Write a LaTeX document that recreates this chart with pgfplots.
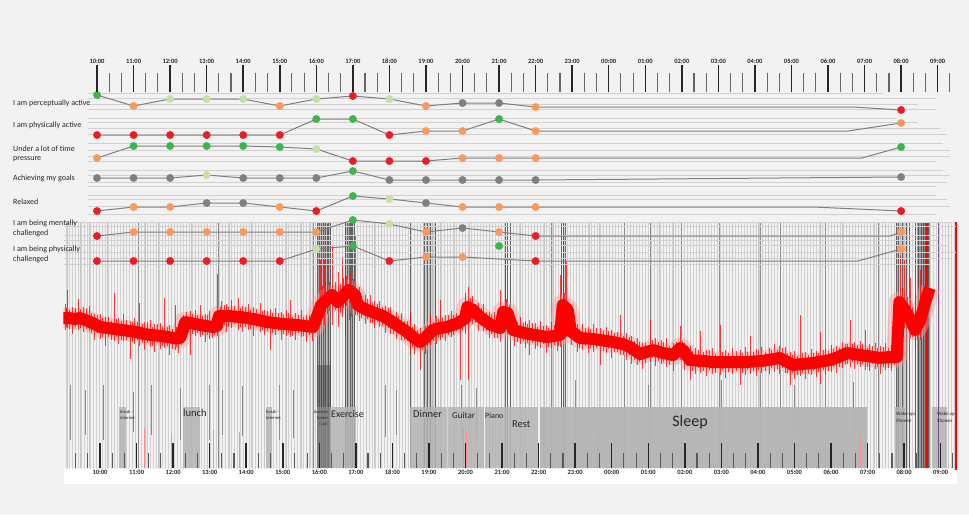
\documentclass[border=0pt]{standalone}
\usepackage{fontspec}
\setmainfont{Carlito}
\usepackage{pgfplots}
\pgfplotsset{compat=1.18}
\usetikzlibrary{patterns}
\definecolor{bgc}{HTML}{F2F2F2}
\definecolor{cG}{HTML}{3DB54A}
\definecolor{cL}{HTML}{C5E0A3}
\definecolor{cO}{HTML}{F79A5B}
\definecolor{cR}{HTML}{ED1C24}
\definecolor{cY}{HTML}{808080}
\definecolor{linec}{HTML}{7F7F7F}
\definecolor{boxc}{HTML}{B4B4B4}
\definecolor{sig}{HTML}{FF0000}
\definecolor{sigl}{HTML}{F2A0A0}
\definecolor{purp}{HTML}{785082}
\pgfplotsset{
 vl/.style={only marks, mark=*, mark size=0pt, mark options={draw=none,fill=none},
   error bars/.cd, y dir=both, y explicit, error mark=none, error bar style={#1}},
 hl/.style={only marks, mark=*, mark size=0pt, mark options={draw=none,fill=none},
   error bars/.cd, x dir=plus, x explicit, error mark=none, error bar style={#1}},
 rowline/.style={color=linec, line width=1pt, mark=none},
 rowdots/.style={scatter, only marks, scatter src=explicit symbolic, mark size=3.7pt,
   scatter/classes={G={mark=*,cG}, L={mark=*,cL}, O={mark=*,cO}, R={mark=*,cR}, Y={mark=*,cY}}},
}
% signal centre line (time in hours, vertical position in pixels from top)
\pgfplotstableread{
h c
9.00 318
9.15 318
9.3 319
9.45 318
9.6 320
9.8 323
10.0 327
10.2 328
10.4 329
10.6 330
10.8 331
11.0 332
11.2 334
11.4 335
11.7 336
12.0 338
12.19 338
12.26 331
12.33 322
12.6 324
12.9 326
13.1 327
13.2 326
13.25 316
13.5 316
13.83 317
14.2 319
14.57 322
15.0 324
15.4 325
15.83 327
15.94 316
16.05 305
16.2 300
16.35 295
16.5 302
16.65 296
16.8 290
16.98 295
17.05 305
17.3 310
17.74 316
18.0 322
18.2 327
18.4 332
18.6 338
18.76 342
18.9 338
19.11 330
19.3 328
19.49 327
19.8 323
20.0 318
20.05 307
20.2 310
20.4 317
20.7 325
20.95 328
21.03 312
21.15 313
21.3 330
21.6 333
21.9 335
22.23 337
22.59 335
22.66 305
22.8 310
22.88 331
23.13 338
23.5 339
24.04 342
24.3 344
24.5 347
24.78 354
24.95 352
25.13 350
25.4 353
25.68 355
25.87 348
25.97 351
26.14 360
26.5 361
26.77 362
27.2 362
27.7 362
28.1 361
28.6 358
28.96 365
29.2 364
29.51 363
29.97 360
30.2 357
30.44 353
30.8 355
31.34 358
31.6 357
31.80 357
31.87 302
32.02 310
32.15 318
32.30 330
32.44 320
32.57 303
32.70 288
}\sigcentre
% signal noise excursions: centre c, downward d, upward u (pixels)
\pgfplotstableread{
h c d u
9.05 318 12 14
9.08 318 9 10
9.12 318 10 28
9.17 318 11 8
9.25 319 15 12
9.32 319 8 11
9.40 319 11 20
9.47 318 10 9
9.55 318 14 11
9.62 320 9 12
9.70 321 10 15
9.77 322 11 9
9.85 324 16 10
9.92 325 8 10
10.0 327 12 13
10.07 327 10 9
10.15 328 18 11
10.22 328 9 11
10.30 329 11 8
10.38 329 12 36
10.45 329 8 10
10.5 330 14 12
10.58 330 10 9
10.65 330 11 16
10.72 331 9 11
10.82 331 28 10
10.88 331 11 9
10.95 332 12 14
11.02 332 8 10
11.09 333 13 30
11.15 333 10 9
11.22 334 16 12
11.30 334 9 12
11.37 335 12 15
11.43 335 11 8
11.5 335 17 11
11.57 335 8 11
11.65 336 13 13
11.70 336 10 9
11.75 336 12 38
11.83 337 9 10
11.9 337 18 12
11.97 338 11 9
12.05 338 12 33
12.10 338 9 11
12.15 338 15 14
12.22 335 10 9
12.28 330 11 15
12.37 322 9 10
12.46 323 32 12
12.52 323 11 9
12.6 324 12 14
12.67 325 8 10
12.74 325 12 20
12.81 325 10 9
12.88 326 16 12
12.94 326 9 11
13.0 326 13 15
13.07 327 11 8
13.14 327 8 10
13.20 326 10 52
13.28 316 10 9
13.32 315 14 14
13.39 316 9 11
13.45 316 16 12
13.52 316 11 9
13.6 316 12 16
13.67 316 8 10
13.78 317 13 19
13.85 317 10 9
13.9 317 15 11
13.97 318 9 11
14.05 318 12 14
14.12 318 11 8
14.2 319 17 12
14.27 319 8 10
14.38 320 12 17
14.43 320 10 9
14.5 321 14 11
14.57 322 9 11
14.65 322 28 13
14.72 322 11 9
14.8 323 12 15
14.87 323 8 10
14.95 324 16 12
15.02 324 10 9
15.1 324 12 14
15.15 324 9 11
15.2 324 13 24
15.27 325 11 8
15.35 325 15 12
15.42 325 8 10
15.5 325 12 15
15.57 326 10 9
15.65 326 16 11
15.72 326 9 11
15.8 327 14 14
15.88 322 11 9
16.02 305 20 45
16.08 302 14 16
16.13 300 25 40
16.17 300 12 18
16.21 299 15 75
16.28 297 14 15
16.35 295 30 50
16.43 298 12 16
16.51 302 25 30
16.57 299 14 15
16.62 297 20 40
16.66 296 12 18
16.70 294 40 70
16.75 292 14 16
16.81 290 30 68
16.85 291 12 18
16.89 292 25 70
16.94 294 14 15
16.98 295 20 60
17.03 303 12 14
17.1 307 14 20
17.15 308 10 9
17.25 309 15 14
17.32 310 9 11
17.39 311 12 16
17.45 312 11 9
17.5 313 15 12
17.58 314 8 10
17.65 315 12 14
17.72 316 10 9
17.8 317 16 11
17.88 319 9 11
17.95 321 13 14
18.03 323 11 8
18.1 324 15 12
18.17 326 8 10
18.25 328 12 15
18.32 330 10 9
18.40 332 9 11
18.48 334 20 22
18.55 336 11 9
18.6 338 16 14
18.68 340 8 10
18.76 342 28 14
18.83 340 10 9
18.9 338 16 12
18.97 336 9 11
19.05 332 13 16
19.12 330 11 8
19.2 329 15 13
19.25 329 8 10
19.30 328 12 28
19.38 327 10 9
19.45 327 14 12
19.52 326 9 11
19.6 325 12 14
19.68 324 11 9
19.75 323 8 10
19.85 322 58 12
19.92 320 10 9
19.99 318 16 25
20.07 307 73 20
20.12 309 9 11
20.2 310 14 14
20.27 312 11 8
20.35 315 16 12
20.43 318 8 10
20.5 319 12 15
20.58 321 10 9
20.65 324 14 12
20.72 325 9 11
20.8 326 12 14
20.87 327 11 9
20.94 328 14 38
21.0 318 12 12
21.08 311 15 56
21.13 313 10 14
21.2 320 14 15
21.27 326 9 11
21.35 330 16 13
21.42 331 11 9
21.5 332 12 15
21.57 333 8 10
21.65 333 15 12
21.70 333 10 9
21.76 334 21 14
21.83 334 9 11
21.9 335 14 12
21.97 335 11 8
22.05 336 12 15
22.12 336 8 10
22.2 337 16 12
22.27 337 10 9
22.35 336 12 14
22.42 336 9 11
22.5 336 15 11
22.55 335 11 9
22.59 335 12 60
22.63 320 12 14
22.67 303 20 68
22.71 307 12 14
22.75 312 25 50
22.82 318 12 12
22.9 331 14 14
22.97 333 9 11
23.05 336 16 12
23.12 337 11 8
23.2 338 12 14
23.27 338 8 10
23.35 338 15 11
23.42 338 10 9
23.5 339 13 15
23.58 339 9 11
23.68 340 25 12
23.76 340 11 9
23.85 341 12 14
23.92 341 8 10
24.0 342 16 12
24.08 342 10 9
24.16 343 9 11
24.23 343 12 28
24.32 344 11 8
24.4 346 14 13
24.47 347 8 10
24.55 348 16 12
24.62 350 10 9
24.7 352 13 14
24.77 353 9 11
24.85 354 15 11
24.92 352 11 9
25.05 350 12 30
25.12 350 8 10
25.2 351 15 13
25.27 351 10 9
25.35 352 12 12
25.42 353 9 11
25.5 353 14 15
25.58 354 11 8
25.68 355 16 12
25.76 352 8 10
25.87 348 12 22
25.93 350 10 9
26.0 355 15 12
26.07 357 9 11
26.14 360 20 14
26.22 360 11 9
26.3 360 14 12
26.36 360 8 10
26.42 361 12 30
26.50 361 10 9
26.6 361 15 11
26.67 361 9 11
26.75 362 12 14
26.84 362 11 8
26.96 362 13 37
27.03 362 8 10
27.1 362 16 12
27.18 362 10 9
27.3 362 12 14
27.40 362 9 11
27.51 362 23 12
27.58 362 11 9
27.65 362 13 15
27.72 362 8 10
27.78 362 12 26
27.87 361 10 9
27.95 361 15 12
28.02 361 9 11
28.1 361 12 14
28.2 360 11 8
28.3 360 14 12
28.38 360 8 10
28.45 359 13 15
28.52 359 10 9
28.6 358 16 12
28.67 359 9 11
28.75 361 12 14
28.81 362 11 9
28.88 364 21 12
28.94 365 8 10
29.0 366 13 15
29.07 365 10 9
29.15 364 12 49
29.22 364 9 11
29.3 364 15 12
29.37 363 11 8
29.45 363 12 14
29.52 363 8 10
29.6 363 14 12
29.65 362 10 9
29.70 362 22 30
29.78 361 9 11
29.85 361 14 12
29.92 360 11 9
30.0 360 12 15
30.07 359 8 10
30.15 358 15 12
30.22 357 10 9
30.3 356 12 14
30.38 355 9 11
30.45 353 11 9
30.52 354 13 34
30.58 354 8 10
30.65 354 15 12
30.72 354 10 9
30.8 355 12 14
30.87 355 9 11
30.93 356 14 26
31.0 356 11 8
31.05 356 15 12
31.12 356 8 10
31.2 357 12 14
31.27 357 10 9
31.34 358 16 12
31.42 358 9 11
31.5 358 12 15
31.57 357 11 9
31.65 357 14 12
31.72 357 8 10
31.83 330 20 25
31.89 300 20 45
31.95 305 14 18
32.02 310 18 50
32.08 313 14 16
32.16 318 20 40
32.23 323 14 16
32.30 330 18 35
32.37 326 14 16
32.44 320 20 50
32.50 312 14 16
32.57 303 20 60
32.63 298 14 16
}\signoise
\begin{document}
\begin{tikzpicture}
% ================= main axis: background, stripes, signal, activities =================
\begin{axis}[at={(0pt,0pt)}, anchor=south west, width=969pt, height=515pt, scale only axis,
  xmin=7.264, xmax=33.775, ymin=0, ymax=515, y dir=reverse, hide axis]
\addplot[fill=bgc, draw=none] coordinates {(7.264,0) (33.775,0) (33.775,515) (7.264,515)} -- cycle;
\addplot[fill=white, draw=none] coordinates {(9.015,222) (33.45,222) (33.45,484) (9.015,484)} -- cycle;
\addplot[fill=black!5, draw=none] coordinates {(9.015,222) (33.45,222) (33.45,468) (9.015,468)} -- cycle;
\addplot[draw=none, pattern=vertical lines, pattern color=black!18] coordinates {(9.015,222) (33.45,222) (33.45,468) (9.015,468)} -- cycle;
% light full-height lines
\addplot[vl={draw=black!22, line width=0.8pt}] coordinates {
(9.1,222) += (0,246) (9.45,222) += (0,246) (9.7,222) += (0,246) (10.2,222) += (0,246)
(10.65,222) += (0,246) (11.25,222) += (0,246) (11.6,222) += (0,246) (11.95,222) += (0,246)
(12.5,222) += (0,246) (12.95,222) += (0,246) (13.55,222) += (0,246) (14.15,222) += (0,246)
(14.5,222) += (0,246) (15.1,222) += (0,246) (15.5,222) += (0,246) (15.75,222) += (0,246)
(17.3,222) += (0,246) (17.5,222) += (0,246) (17.7,222) += (0,246) (18.2,222) += (0,246)
(19.3,222) += (0,246) (19.7,222) += (0,246) (20.1,222) += (0,246) (20.65,222) += (0,246)
(21.5,222) += (0,246) (22.15,222) += (0,246) (22.4,222) += (0,246) (23.4,222) += (0,246)
(23.65,222) += (0,246) (24.5,222) += (0,246) (25.3,222) += (0,246) (25.7,222) += (0,246)
(26.4,222) += (0,246) (27.3,222) += (0,246) (28.0,222) += (0,246) (28.3,222) += (0,246)
(29.1,222) += (0,246) (29.7,222) += (0,246) (30.3,222) += (0,246) (31.2,222) += (0,246)
(31.5,222) += (0,246) (33.2,222) += (0,246)};
% medium gray partial lines
\addplot[vl={draw=black!45, line width=0.8pt}] coordinates {
(9.2,385) += (0,55) (9.6,390) += (0,45) (10.1,385) += (0,55) (10.9,392) += (0,40)
(11.4,385) += (0,50) (12.2,388) += (0,52) (13.0,385) += (0,55) (13.35,390) += (0,45)
(13.9,386) += (0,50) (14.9,385) += (0,55) (15.3,390) += (0,48) (17.8,385) += (0,52)
(18.1,390) += (0,45) (19.9,385) += (0,55) (20.3,388) += (0,50) (23.0,380) += (0,60)
(25.0,385) += (0,50) (27.0,380) += (0,55) (29.0,385) += (0,50) (30.6,382) += (0,55)};
% medium gray full lines
\addplot[vl={draw=black!45, line width=0.7pt}] coordinates {
(11.05,222) += (0,246) (13.23,222) += (0,246) (15.85,222) += (0,246) (22.35,222) += (0,246)
(24.34,222) += (0,246) (25.05,222) += (0,246) (25.9,222) += (0,246) (26.95,222) += (0,246)
(28.06,222) += (0,246) (28.6,222) += (0,246) (29.84,222) += (0,246) (31.3,222) += (0,246)};
% dark shaded zones
\addplot[fill=black, fill opacity=0.22, draw=none] coordinates {(15.95,222) (16.33,222) (16.33,468) (15.95,468)} -- cycle;
\addplot[fill=black, fill opacity=0.30, draw=none] coordinates {(15.95,365) (16.33,365) (16.33,468) (15.95,468)} -- cycle;
\addplot[fill=black, fill opacity=0.18, draw=none] coordinates {(16.70,222) (16.98,222) (16.98,468) (16.70,468)} -- cycle;
\addplot[fill=black, fill opacity=0.12, draw=none] coordinates {(18.85,222) (19.20,222) (19.20,468) (18.85,468)} -- cycle;
\addplot[fill=black, fill opacity=0.15, draw=none] coordinates {(31.78,222) (32.10,222) (32.10,468) (31.78,468)} -- cycle;
\addplot[fill=black, fill opacity=0.35, draw=none] coordinates {(32.35,222) (32.70,222) (32.70,468) (32.35,468)} -- cycle;
% dark lines
\addplot[vl={draw=black!72, line width=0.9pt, opacity=0.8}] coordinates {
(15.95,222) += (0,246) (16.0,222) += (0,246) (16.06,222) += (0,246) (16.12,222) += (0,246)
(16.18,222) += (0,246) (16.25,222) += (0,246) (16.31,222) += (0,246) (16.72,222) += (0,246)
(16.78,222) += (0,246) (16.84,222) += (0,246) (16.9,222) += (0,246) (16.96,222) += (0,246)
(18.48,222) += (0,246) (18.89,222) += (0,246) (18.95,222) += (0,246) (19.05,222) += (0,246)
(19.17,222) += (0,246) (21.1,222) += (0,246) (21.16,222) += (0,246) (21.22,222) += (0,246)
(22.62,222) += (0,246) (22.68,222) += (0,246) (22.73,222) += (0,246) (31.78,222) += (0,246)
(31.85,222) += (0,246) (31.95,222) += (0,246) (32.06,222) += (0,246) (32.15,222) += (0,246)
(32.3,222) += (0,246) (32.4,222) += (0,246) (32.47,222) += (0,246) (32.53,222) += (0,246)
(32.58,222) += (0,246) (32.66,222) += (0,246)};
% activity boxes
\addplot[fill=boxc, fill opacity=0.85, draw=none] coordinates {(10.52,407) (10.71,407) (10.71,468) (10.52,468)} -- cycle;
\addplot[fill=boxc, fill opacity=0.85, draw=none] coordinates {(12.27,407) (12.74,407) (12.74,468) (12.27,468)} -- cycle;
\addplot[fill=boxc, fill opacity=0.85, draw=none] coordinates {(14.54,407) (14.71,407) (14.71,468) (14.54,468)} -- cycle;
\addplot[fill=black!45, fill opacity=0.7, draw=none] coordinates {(15.94,407) (16.29,407) (16.29,468) (15.94,468)} -- cycle;
\addplot[fill=boxc, fill opacity=0.85, draw=none] coordinates {(16.29,407) (17.00,407) (17.00,468) (16.29,468)} -- cycle;
\addplot[fill=boxc, fill opacity=0.85, draw=none] coordinates {(18.48,407) (19.49,407) (19.49,468) (18.48,468)} -- cycle;
\addplot[fill=boxc, fill opacity=0.85, draw=none] coordinates {(19.52,407) (20.51,407) (20.51,468) (19.52,468)} -- cycle;
\addplot[fill=boxc, fill opacity=0.85, draw=none] coordinates {(20.53,407) (21.16,407) (21.16,468) (20.53,468)} -- cycle;
\addplot[fill=boxc, fill opacity=0.85, draw=none] coordinates {(21.16,407) (21.98,407) (21.98,468) (21.16,468)} -- cycle;
\addplot[fill=boxc, fill opacity=0.95, draw=none] coordinates {(22.04,407) (30.98,407) (30.98,468) (22.04,468)} -- cycle;
\addplot[fill=boxc, fill opacity=0.85, draw=none] coordinates {(31.75,407) (32.02,407) (32.02,468) (31.75,468)} -- cycle;
\addplot[fill=boxc, fill opacity=0.85, draw=none] coordinates {(32.76,407) (33.17,407) (33.17,468) (32.76,468)} -- cycle;
% red / purple marker lines
\addplot[vl={draw=sig, line width=1.6pt}] coordinates {(32.63,222) += (0,246) (33.42,222) += (0,248)};
\addplot[vl={draw=purp, line width=0.9pt}] coordinates {(32.95,222) += (0,246)};
% faint red traces in lower part
\addplot[vl={draw=sig!45, line width=0.6pt}] coordinates {
(11.2,428) += (0,40) (11.95,435) += (0,33) (13.1,430) += (0,38) (13.8,432) += (0,36)
(19.95,428) += (0,40) (20.02,432) += (0,36) (23.6,436) += (0,32) (30.8,438) += (0,30)};
% signal band
\addplot[color=sigl, opacity=0.45, line width=21pt, line join=round, line cap=butt] table[x=h,y=c] {\sigcentre};
\addplot[vl={draw=sig, line width=0.75pt, opacity=0.75}] table[x=h, y=c, y error plus=d, y error minus=u] {\signoise};
\addplot[color=sig, line width=12pt, line join=round, line cap=butt] table[x=h,y=c] {\sigcentre};
\end{axis}
% ================= rating rows (top time mapping) =================
\begin{axis}[at={(0pt,0pt)}, anchor=south west, width=969pt, height=515pt, scale only axis,
  xmin=7.346, xmax=33.857, ymin=0, ymax=515, y dir=reverse, hide axis]
\addplot[hl={draw=black!18, line width=0.7pt}] coordinates {
(9.75,93) += (21.75,0) (9.75,98) += (23.2,0) (9.75,104) += (22.7,0) (9.75,109) += (23.2,0)
(9.75,118) += (22.1,0) (9.75,122) += (22.7,0) (9.75,128) += (23.3,0) (9.75,134) += (23.5,0)
(9.75,143) += (23.4,0) (9.75,150) += (23.6,0) (9.75,156) += (23.6,0) (9.75,161) += (23.2,0)
(9.75,170) += (23.4,0) (9.75,175) += (23.6,0) (9.75,182) += (23.5,0) (9.75,186) += (23.2,0)
(9.75,195) += (23.2,0) (9.75,199) += (23.5,0) (9.75,206) += (23.6,0) (9.75,214) += (23.2,0)
(9.1,222) += (24.3,0) (9.1,226) += (24.4,0) (9.1,235) += (24.3,0) (9.1,240) += (23.9,0)
(9.1,245) += (24.2,0) (9.1,252) += (24.4,0) (9.1,258) += (24.3,0) (9.1,264) += (23.7,0)};
% row 1
\addplot[rowline] coordinates {(10,95) (11,106) (12,99) (13,99) (14,99) (15,106) (16,99) (17,96) (18,99) (19,106) (20,103) (21,103) (22,107) (30.68,107) (32,110)};
\addplot[rowdots] coordinates {(10,95) [G] (11,106) [O] (12,99) [L] (13,99) [L] (14,99) [L] (15,106) [O] (16,99) [L] (17,96) [R] (18,99) [L] (19,106) [O] (20,103) [Y] (21,103) [Y] (22,107) [O] (32,110) [R]};
% row 2
\addplot[rowline] coordinates {(10,135) (11,135) (12,135) (13,135) (14,135) (15,135) (16,119) (17,119) (18,135) (19,131) (20,131) (21,119) (22,131) (30.55,131) (32,123)};
\addplot[rowdots] coordinates {(10,135) [R] (11,135) [R] (12,135) [R] (13,135) [R] (14,135) [R] (15,135) [R] (16,119) [G] (17,119) [G] (18,135) [R] (19,131) [O] (20,131) [O] (21,119) [G] (22,131) [O] (32,123) [O]};
% row 3
\addplot[rowline] coordinates {(10,158) (11,146) (12,146) (13,146) (14,146) (15,147) (16,149) (17,161) (18,161) (19,161) (20,158) (21,158) (22,158) (30.93,158) (32,147)};
\addplot[rowdots] coordinates {(10,158) [O] (11,146) [G] (12,146) [G] (13,146) [G] (14,146) [G] (15,147) [G] (16,149) [L] (17,161) [R] (18,161) [R] (19,161) [R] (20,158) [O] (21,158) [O] (22,158) [O] (32,147) [G]};
% row 4
\addplot[rowline] coordinates {(10,178) (11,178) (12,178) (13,175) (14,178) (15,178) (16,178) (17,171) (18,180) (19,180) (20,180) (21,180) (22,180) (32,177)};
\addplot[rowdots] coordinates {(10,178) [Y] (11,178) [Y] (12,178) [Y] (13,175) [L] (14,178) [Y] (15,178) [Y] (16,178) [Y] (17,171) [G] (18,180) [Y] (19,180) [Y] (20,180) [Y] (21,180) [Y] (22,180) [Y] (32,177) [Y]};
% row 5
\addplot[rowline] coordinates {(10,211) (11,207) (12,207) (13,203) (14,203) (15,207) (16,211) (17,196) (18,199) (19,203) (20,207) (21,207) (22,207) (29.59,207) (32,211)};
\addplot[rowdots] coordinates {(10,211) [R] (11,207) [O] (12,207) [O] (13,203) [Y] (14,203) [Y] (15,207) [O] (16,211) [R] (17,196) [G] (18,199) [L] (19,203) [Y] (20,207) [O] (21,207) [O] (22,207) [O] (32,211) [R]};
% row 6
\addplot[rowline] coordinates {(10,236) (11,232) (12,232) (13,232) (14,232) (15,232) (16,232) (17,220) (18,224) (19,232) (20,228) (21,232) (22,236) (31.7,236) (32,232)};
\addplot[rowdots] coordinates {(10,236) [R] (11,232) [O] (12,232) [O] (13,232) [O] (14,232) [O] (15,232) [O] (16,232) [O] (17,220) [G] (18,224) [L] (19,232) [O] (20,228) [Y] (21,232) [O] (22,236) [R] (32,232) [O]};
% row 7
\addplot[rowline] coordinates {(10,261) (11,261) (12,261) (13,261) (14,261) (15,261) (16,249) (17,246) (18,261) (19,257) (20,257) (22,261) (30.82,261) (32,249)};
\addplot[rowdots] coordinates {(10,261) [R] (11,261) [R] (12,261) [R] (13,261) [R] (14,261) [R] (15,261) [R] (16,249) [L] (17,246) [G] (18,261) [R] (19,257) [O] (20,257) [O] (21,246) [G] (22,261) [R] (32,249) [O]};
\end{axis}
% ================= top time axis =================
\begin{axis}[at={(0pt,423pt)}, anchor=south west, width=969pt, height=27pt, scale only axis,
  xmin=7.346, xmax=33.857, ymin=0, ymax=1, axis line style={draw=none}, ytick=\empty,
  xtick={10,...,33},
  xticklabels={10:00,11:00,12:00,13:00,14:00,15:00,16:00,17:00,18:00,19:00,20:00,21:00,22:00,23:00,00:00,01:00,02:00,03:00,04:00,05:00,06:00,07:00,08:00,09:00},
  minor xtick={10.3333,10.6667,11.3333,11.6667,12.3333,12.6667,13.3333,13.6667,14.3333,14.6667,15.3333,15.6667,16.3333,16.6667,17.3333,17.6667,18.3333,18.6667,19.3333,19.6667,20.3333,20.6667,21.3333,21.6667,22.3333,22.6667,23.3333,23.6667,24.3333,24.6667,25.3333,25.6667,26.3333,26.6667,27.3333,27.6667,28.3333,28.6667,29.3333,29.6667,30.3333,30.6667,31.3333,31.6667,32.3333,32.6667,33.3333},
  tick align=inside, xtick pos=bottom, xticklabel pos=top,
  major tick length=27pt, minor tick length=19pt,
  major tick style={line width=1.5pt, color=black!85},
  minor tick style={line width=1.1pt, color=black!60},
  xticklabel style={font=\fontsize{6.5}{7}\selectfont\bfseries, text=black!85, inner sep=1pt, text height=4.6pt, text depth=0pt}]
\end{axis}
% ================= bottom time axis =================
\begin{axis}[at={(0pt,47pt)}, anchor=south west, width=969pt, height=25pt, scale only axis,
  xmin=7.264, xmax=33.775, ymin=0, ymax=1, axis line style={draw=none}, ytick=\empty,
  xtick={10,...,33},
  xticklabels={10:00,11:00,12:00,13:00,14:00,15:00,16:00,17:00,18:00,19:00,20:00,21:00,22:00,23:00,00:00,01:00,02:00,03:00,04:00,05:00,06:00,07:00,08:00,09:00},
  minor xtick={9.3333,9.6667,10.3333,10.6667,11.3333,11.6667,12.3333,12.6667,13.3333,13.6667,14.3333,14.6667,15.3333,15.6667,16.3333,16.6667,17.3333,17.6667,18.3333,18.6667,19.3333,19.6667,20.3333,20.6667,21.3333,21.6667,22.3333,22.6667,23.3333,23.6667,24.3333,24.6667,25.3333,25.6667,26.3333,26.6667,27.3333,27.6667,28.3333,28.6667,29.3333,29.6667,30.3333,30.6667,31.3333,31.6667,32.3333,32.6667,33.3333},
  tick align=inside, xtick pos=bottom, xticklabel pos=bottom,
  major tick length=25pt, minor tick length=15pt,
  major tick style={line width=1.5pt, color=black!85},
  minor tick style={line width=1.1pt, color=black!65},
  xticklabel style={font=\fontsize{6.5}{7}\selectfont\bfseries, text=black!85, inner sep=1.5pt, text height=4.6pt, text depth=0pt, anchor=north}]
\end{axis}
% ================= texts =================
\begin{scope}[every node/.style={inner sep=0pt, text=black!85}]
\node[anchor=west, font=\fontsize{8}{9}\selectfont] at (13pt,412pt) {I am perceptually active};
\node[anchor=west, font=\fontsize{8}{9}\selectfont] at (13pt,390pt) {I am physically active};
\node[anchor=west, font=\fontsize{8}{9}\selectfont] at (13pt,366pt) {Under a lot of time};
\node[anchor=west, font=\fontsize{8}{9}\selectfont] at (13pt,356pt) {pressure};
\node[anchor=west, font=\fontsize{8}{9}\selectfont] at (13pt,337pt) {Achieving my goals};
\node[anchor=west, font=\fontsize{8}{9}\selectfont] at (13pt,313pt) {Relaxed};
\node[anchor=west, font=\fontsize{8}{9}\selectfont] at (13pt,292pt) {I am being mentally};
\node[anchor=west, font=\fontsize{8}{9}\selectfont] at (13pt,282pt) {challenged};
\node[anchor=west, font=\fontsize{8}{9}\selectfont] at (13pt,266pt) {I am being physically};
\node[anchor=west, font=\fontsize{8}{9}\selectfont] at (13pt,256pt) {challenged};
\node[anchor=center, font=\fontsize{16}{18}\selectfont] at (690pt,93pt) {Sleep};
\node[anchor=west, font=\fontsize{10}{12}\selectfont] at (331pt,101pt) {Exercise};
\node[anchor=west, font=\fontsize{10.5}{12}\selectfont] at (413pt,101pt) {Dinner};
\node[anchor=west, font=\fontsize{10.5}{12}\selectfont] at (183pt,102pt) {lunch};
\node[anchor=west, font=\fontsize{9}{11}\selectfont] at (452pt,100pt) {Guitar};
\node[anchor=west, font=\fontsize{8}{10}\selectfont] at (485pt,99pt) {Piano};
\node[anchor=west, font=\fontsize{10.5}{12}\selectfont] at (512pt,91pt) {Rest};
\node[anchor=west, font=\fontsize{4.5}{5}\selectfont] at (120pt,103pt) {break -};
\node[anchor=west, font=\fontsize{4.5}{5}\selectfont] at (120pt,97pt) {internet};
\node[anchor=west, font=\fontsize{4.5}{5}\selectfont] at (266pt,103pt) {break -};
\node[anchor=west, font=\fontsize{4.5}{5}\selectfont] at (266pt,97pt) {internet};
\node[anchor=east, font=\fontsize{4.5}{5}\selectfont] at (328pt,103pt) {Journey};
\node[anchor=east, font=\fontsize{4.5}{5}\selectfont] at (328pt,97pt) {home};
\node[anchor=east, font=\fontsize{4.5}{5}\selectfont] at (328pt,91pt) {(car)};
\node[anchor=west, font=\fontsize{5}{6}\selectfont] at (896pt,101pt) {Wake up/};
\node[anchor=west, font=\fontsize{5}{6}\selectfont] at (896pt,94pt) {Shower};
\node[anchor=west, font=\fontsize{5}{6}\selectfont] at (937pt,101pt) {Wake up};
\node[anchor=west, font=\fontsize{5}{6}\selectfont] at (937pt,94pt) {Shower};
\end{scope}
\end{tikzpicture}
\end{document}
